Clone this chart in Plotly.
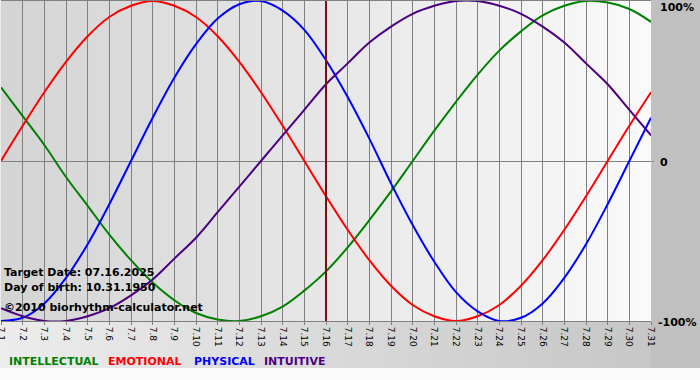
import plotly.graph_objects as go

# ---- data (fraction of 100%) ----
days = list(range(1, 32))
tick_labels = [f"7.{d}" for d in days]

intellectual = [0.46, 0.28, 0.10, -0.10, -0.28, -0.46, -0.62, -0.76, -0.87, -0.95,
                -0.99, -1.00, -0.97, -0.91, -0.81, -0.69, -0.54, -0.37, -0.19, 0.00,
                0.19, 0.37, 0.54, 0.69, 0.81, 0.91, 0.97, 1.00, 0.99, 0.95, 0.87]
emotional = [0.00, 0.22, 0.43, 0.62, 0.78, 0.90, 0.97, 1.00, 0.97, 0.90,
             0.78, 0.62, 0.43, 0.22, 0.00, -0.22, -0.43, -0.62, -0.78, -0.90,
             -0.97, -1.00, -0.97, -0.90, -0.78, -0.62, -0.43, -0.22, 0.00, 0.22, 0.43]
physical = [-1.00, -0.98, -0.89, -0.73, -0.52, -0.27, 0.00, 0.27, 0.52, 0.73,
            0.89, 0.98, 1.00, 0.94, 0.82, 0.63, 0.40, 0.14, -0.14, -0.40,
            -0.63, -0.82, -0.94, -1.00, -0.98, -0.89, -0.73, -0.52, -0.27, 0.00, 0.27]
intuitive = [-0.92, -0.97, -1.00, -1.00, -0.97, -0.92, -0.84, -0.74, -0.61, -0.48,
             -0.32, -0.16, 0.00, 0.16, 0.32, 0.48, 0.61, 0.74, 0.84, 0.92,
             0.97, 1.00, 1.00, 0.97, 0.92, 0.84, 0.74, 0.61, 0.48, 0.32, 0.16]

series_names = ["INTELLECTUAL", "EMOTIONAL", "PHYSICAL", "INTUITIVE"]
series_colors = ["#008000", "#ff0000", "#0000ff", "#4b0082"]
target_date = "07.16.2025"
birth_date = "10.31.1950"
target_day = int(target_date.split(".")[1])

# ---- layout geometry ----
W, H = 700, 380
ML, MR, MT, MB = 1, 49, 1, 59
PW, PH = W - ML - MR, H - MT - MB


def px2x(px):
    return (px - ML) / PW


def py2y(py):
    return (H - MB - py) / PH


def grey(v):
    v = int(round(v))
    return f"rgb({v},{v},{v})"


fig = go.Figure()
for name, vals, col in zip(series_names, [intellectual, emotional, physical, intuitive], series_colors):
    fig.add_trace(go.Scatter(x=days, y=vals, mode="lines", name=name,
                             line=dict(color=col, width=2, shape="spline", smoothing=1.0)))

shapes = []
# outer background gradient (light left -> darker right), above white bottom strip
n_out = 70
for i in range(n_out):
    x0 = i * W / n_out
    x1 = (i + 1) * W / n_out
    c = 236 - (236 - 196) * (i + 0.5) / n_out
    shapes.append(dict(type="rect", xref="paper", yref="paper",
                       x0=px2x(x0), x1=px2x(x1), y0=py2y(368), y1=py2y(0),
                       fillcolor=grey(c), line=dict(width=0), layer="below"))
# right margin solid gray
shapes.append(dict(type="rect", xref="paper", yref="paper",
                   x0=1, x1=px2x(W), y0=py2y(368), y1=py2y(0),
                   fillcolor="#c0c0c0", line=dict(width=0), layer="below"))
# plot area gradient (dark left -> light right)
n_in = 65
for i in range(n_in):
    c = 212 + (250 - 212) * (i + 0.5) / n_in
    shapes.append(dict(type="rect", xref="paper", yref="paper",
                       x0=i / n_in, x1=(i + 1) / n_in, y0=0, y1=1,
                       fillcolor=grey(c), line=dict(width=0), layer="below"))
# target date line
shapes.append(dict(type="line", xref="x", yref="paper", x0=target_day, x1=target_day,
                   y0=0, y1=1, line=dict(color="#7a1010", width=2), layer="above"))

annotations = []
txt_font = dict(family="DejaVu Sans", size=11, color="#000000")
for txt, py in [(f"<b>Target Date: {target_date}</b>", 272),
                (f"<b>Day of birth: {birth_date}</b>", 287),
                ("<b>©2010 biorhythm-calculator.net</b>", 307)]:
    annotations.append(dict(text=txt, xref="paper", yref="paper", x=px2x(2), y=py2y(py),
                            xanchor="left", yanchor="middle", showarrow=False, font=txt_font))

lab_font = dict(family="DejaVu Sans", size=11, color="#000000")
for txt, px, py in [("<b>100%</b>", 658, 7), ("<b>0</b>", 658, 162), ("<b>-100%</b>", 656, 322)]:
    annotations.append(dict(text=txt, xref="paper", yref="paper", x=px2x(px), y=py2y(py),
                            xanchor="left", yanchor="middle", showarrow=False, font=lab_font))

leg_x = [7, 106, 192, 262]
for name, col, px in zip(series_names, series_colors, leg_x):
    annotations.append(dict(text=f"<b>{name}</b>", xref="paper", yref="paper", x=px2x(px), y=py2y(361),
                            xanchor="left", yanchor="middle", showarrow=False,
                            font=dict(family="DejaVu Sans", size=11, color=col)))

fig.update_layout(
    width=W, height=H,
    margin=dict(l=ML, r=MR, t=MT, b=MB, pad=0, autoexpand=False),
    paper_bgcolor="#fbfbfb",
    plot_bgcolor="rgba(0,0,0,0)",
    showlegend=False,
    shapes=shapes,
    annotations=annotations,
    xaxis=dict(range=[1, 31], tickmode="array", tickvals=days, ticktext=tick_labels,
               tickangle=90, tickfont=dict(family="DejaVu Sans", size=9, color="#000000"),
               ticklabeloverflow="allow", automargin=False,
               showgrid=True, gridcolor="#808080", gridwidth=1,
               ticks="outside", ticklen=3, tickcolor="#808080",
               showline=True, linecolor="#808080", linewidth=1, mirror=True,
               zeroline=False, fixedrange=True),
    yaxis=dict(range=[-1, 1], side="right", tickmode="array", tickvals=[0],
               showticklabels=False, ticks="outside", ticklen=2, tickcolor="#808080",
               showgrid=True, gridcolor="#808080", gridwidth=1, automargin=False,
               zeroline=False, showline=False, fixedrange=True),
)

fig.write_html("out.html")
